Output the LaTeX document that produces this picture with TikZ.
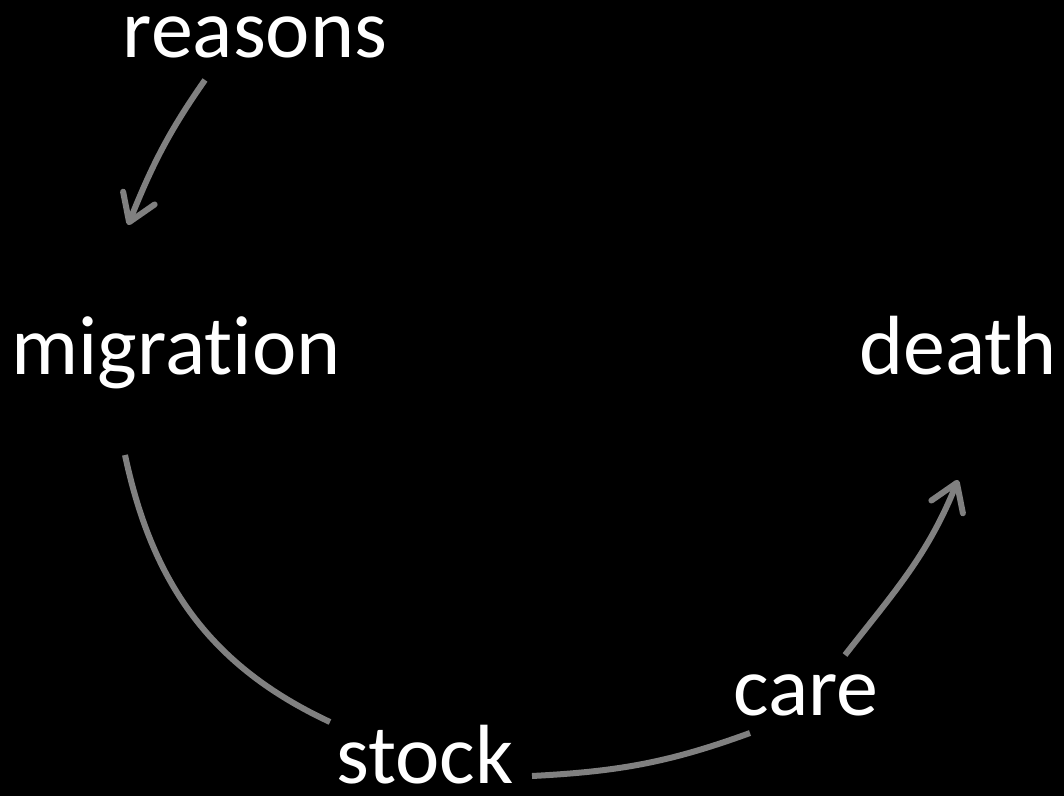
\documentclass[tikz,border=0pt]{standalone}
\usepackage{fontspec}
\setmainfont{Carlito}[Ligatures=NoCommon]
\usetikzlibrary{arrows.meta}
\definecolor{arcgray}{RGB}{128,128,128}

\begin{document}
\begin{tikzpicture}[x=1pt, y=1pt,
    >={Straight Barb[length=26pt, width=34pt, line cap=round, line join=round]},
    word/.style={text=white, inner sep=0pt, anchor=base,
      font=\fontsize{84}{100}\selectfont},
    link/.style={draw=arcgray, line width=6pt}]
  \fill[black] (0,0) rectangle (1064,796);
  \useasboundingbox (0,0) rectangle (1064,796);
  % the words, set on their baselines
  \node[word] (reasons) at (255,738) {reasons};
  \node[word] (migration) at (176,421) {migration};
  \node[word] (death) at (958,421) {death};
  \node[word] (stock) at (425,13) {stock};
  \node[word] (care) at (806,81) {care};
  % the loop
  \draw[link, ->] ([shift={(-50,-22)}]reasons.base) to[out=-125, in=68]
    ([shift={(-48,150)}]migration.base);
  \draw[link] ([shift={(-51,-80)}]migration.base) to[out=-78, in=155]
    ([shift={(-95,61)}]stock.base);
  \draw[link] ([shift={(107,7)}]stock.base) to[out=3, in=200]
    ([shift={(-56,-18)}]care.base);
  \draw[link, ->] ([shift={(39,60)}]care.base) to[out=52, in=-112]
    ([shift={(0,-105)}]death.base);
\end{tikzpicture}
\end{document}
